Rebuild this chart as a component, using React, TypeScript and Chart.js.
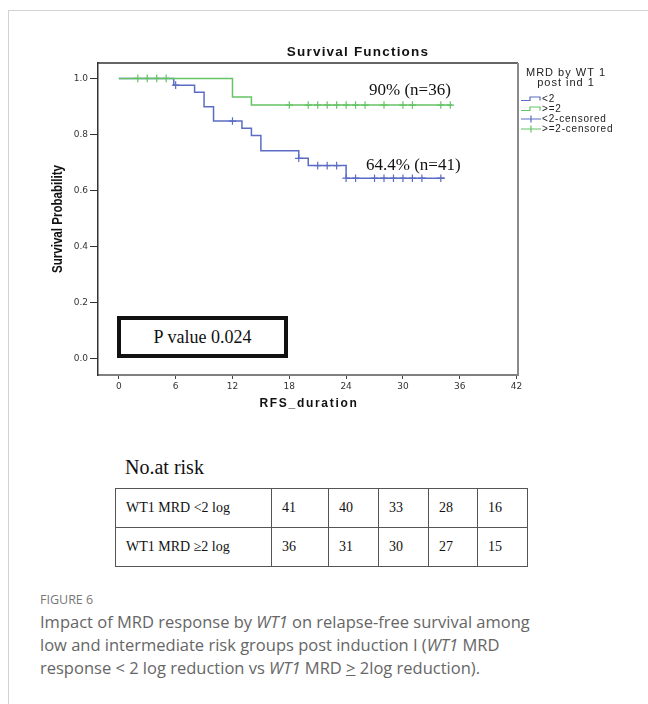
import React, { useEffect, useRef } from 'react';
import { Chart, registerables } from 'chart.js';

Chart.register(...registerables);

// ---------- data ----------
const CHART_TITLE = 'Survival Functions';
const X_TITLE = 'RFS_duration';
const Y_TITLE = 'Survival Probability';
const X_TICKS = [0, 6, 12, 18, 24, 30, 36, 42];
const Y_TICKS = [0, 0.2, 0.4, 0.6, 0.8, 1.0];
const LEGEND_TITLE = ['MRD by WT 1', 'post ind 1'];
const LEGEND_LABELS = ['<2', '>=2', '<2-censored', '>=2-censored'];

// group "<2" (WT1 MRD < 2 log reduction)
const LOW_TIMES = [0, 5.8, 8, 9, 10, 13, 14, 15, 19, 20, 24, 34.4];
const LOW_SURV = [1, 0.976, 0.951, 0.899, 0.848, 0.822, 0.796, 0.742, 0.715, 0.689, 0.644, 0.644];
const LOW_CENSORED = [6, 12, 19, 21, 22, 23, 24, 25, 27, 28, 29, 30, 31, 32, 34];

// group ">=2" (WT1 MRD >= 2 log reduction)
const HIGH_TIMES = [0, 12, 14, 35.2];
const HIGH_SURV = [1, 0.934, 0.905, 0.905];
const HIGH_CENSORED = [2, 3, 4, 5, 18, 20, 21, 22, 23, 24, 25, 26, 28, 30, 31, 34, 35];

const ANNOT_HIGH = '90% (n=36)';
const ANNOT_LOW = '64.4% (n=41)';
const P_TEXT = 'P value 0.024';

const RISK_TITLE = 'No.at risk';
const RISK_ROWS = ['WT1 MRD <2 log', 'WT1 MRD \u22652 log'];
const RISK_LOW = [41, 40, 33, 28, 16];
const RISK_HIGH = [36, 31, 30, 27, 15];

const BLUE = '#5b6cc4';
const GREEN = '#64c464';

const SANS = '"Liberation Sans", Arial, sans-serif';
const SERIF = '"Liberation Serif", "Times New Roman", serif';
const CAPTION_FONT = '"Open Sans", "Noto Sans", sans-serif';

function survAt(times: number[], surv: number[], t: number): number {
  let v = surv[0];
  for (let i = 0; i < times.length; i++) {
    if (times[i] <= t) v = surv[i];
  }
  return v;
}

const overlayPlugin = {
  id: 'overlay',
  afterDraw(chart: any) {
    const { ctx, chartArea: a } = chart;
    ctx.save();
    // top and right frame of the plot
    ctx.lineWidth = 1.5;
    ctx.strokeStyle = '#333';
    ctx.beginPath();
    ctx.moveTo(a.left, a.top);
    ctx.lineTo(a.right, a.top);
    ctx.stroke();
    ctx.lineWidth = 2;
    ctx.strokeStyle = '#8a8a8a';
    ctx.beginPath();
    ctx.moveTo(a.right, a.top);
    ctx.lineTo(a.right, a.bottom);
    ctx.stroke();

    ctx.fillStyle = '#111';
    ctx.textBaseline = 'middle';
    ctx.textAlign = 'center';
    // title
    (ctx as any).letterSpacing = '1.2px';
    ctx.font = `bold 13.5px ${SANS}`;
    ctx.fillText(CHART_TITLE, a.left + 260, a.top - 11);
    // x title
    (ctx as any).letterSpacing = '1.7px';
    ctx.font = `bold 12px ${SANS}`;
    ctx.fillText(X_TITLE, (a.left + a.right) / 2 + 1, a.bottom + 29);
    // y title (rotated, condensed)
    (ctx as any).letterSpacing = '0px';
    ctx.save();
    ctx.translate(a.left - 40, (a.top + a.bottom) / 2);
    ctx.rotate(-Math.PI / 2);
    ctx.font = `bold 14px ${SANS}`;
    ctx.fillText(Y_TITLE, 0, 0, 108);
    ctx.restore();

    // legend
    const lx = a.right + 3;
    (ctx as any).letterSpacing = '1px';
    ctx.font = `11px ${SANS}`;
    ctx.fillStyle = '#222';
    ctx.fillText(LEGEND_TITLE[0], a.right + 48, a.top + 10);
    ctx.fillText(LEGEND_TITLE[1], a.right + 48, a.top + 20);

    const ds = chart.data.datasets;
    const colorFor = (label: string) => {
      const d = ds.find((x: any) => x.label === label);
      return d ? d.borderColor : '#000';
    };
    ctx.textAlign = 'left';
    (ctx as any).letterSpacing = '0.8px';
    ctx.font = `10px ${SANS}`;
    LEGEND_LABELS.forEach((lab, i) => {
      const cy = a.top + 36 + i * 10;
      const col = colorFor(lab);
      ctx.strokeStyle = col;
      ctx.lineWidth = 1.2;
      ctx.beginPath();
      if (i < 2) {
        ctx.moveTo(lx, cy + 1.5);
        ctx.lineTo(lx + 9, cy + 1.5);
        ctx.lineTo(lx + 9, cy - 2);
        ctx.lineTo(lx + 19, cy - 2);
        ctx.lineTo(lx + 19, cy + 1.5);
      } else {
        ctx.moveTo(lx, cy);
        ctx.lineTo(lx + 20, cy);
        ctx.moveTo(lx + 10, cy - 3.5);
        ctx.lineTo(lx + 10, cy + 3.5);
      }
      ctx.stroke();
      ctx.fillStyle = '#222';
      ctx.fillText(lab, lx + 21, cy);
    });
    ctx.restore();
  },
};

function SurvivalChart() {
  const ref = useRef<HTMLCanvasElement | null>(null);
  useEffect(() => {
    if (!ref.current) return;
    const lowLine = LOW_TIMES.map((t, i) => ({ x: t, y: LOW_SURV[i] }));
    const highLine = HIGH_TIMES.map((t, i) => ({ x: t, y: HIGH_SURV[i] }));
    const lowCens = LOW_CENSORED.map((t) => ({ x: t, y: survAt(LOW_TIMES, LOW_SURV, t) }));
    const highCens = HIGH_CENSORED.map((t) => ({ x: t, y: survAt(HIGH_TIMES, HIGH_SURV, t) }));

    const tickFont = { family: '"DejaVu Sans", sans-serif', size: 9 };
    const chart = new Chart(ref.current, {
      type: 'line',
      data: {
        datasets: [
          {
            label: '>=2-censored',
            type: 'scatter',
            data: highCens,
            pointStyle: 'cross',
            pointRadius: 3.8,
            pointBorderWidth: 1.2,
            borderColor: GREEN,
            backgroundColor: GREEN,
            showLine: false,
          } as any,
          {
            label: '<2-censored',
            type: 'scatter',
            data: lowCens,
            pointStyle: 'cross',
            pointRadius: 3.8,
            pointBorderWidth: 1.2,
            borderColor: BLUE,
            backgroundColor: BLUE,
            showLine: false,
          } as any,
          {
            label: '>=2',
            data: highLine,
            stepped: 'before',
            borderColor: GREEN,
            backgroundColor: GREEN,
            borderWidth: 1.5,
            pointRadius: 0,
            fill: false,
          } as any,
          {
            label: '<2',
            data: lowLine,
            stepped: 'before',
            borderColor: BLUE,
            backgroundColor: BLUE,
            borderWidth: 1.5,
            pointRadius: 0,
            fill: false,
          } as any,
        ],
      },
      options: {
        animation: false,
        responsive: false,
        events: [],
        layout: { padding: { left: 0, top: 63, right: 130, bottom: 0 } },
        plugins: {
          legend: { display: false },
          tooltip: { enabled: false },
          title: { display: false },
        },
        scales: {
          x: {
            type: 'linear',
            min: -2.2,
            max: 42.15,
            afterBuildTicks: (s: any) => {
              s.ticks = X_TICKS.map((v) => ({ value: v }));
            },
            afterFit: (s: any) => {
              s.height = 55;
            },
            grid: { drawOnChartArea: false, drawTicks: true, tickLength: 4, tickColor: '#444', lineWidth: 1 },
            border: { display: true, color: '#808080', width: 2 },
            ticks: {
              padding: 2,
              font: tickFont,
              color: '#333',
              maxRotation: 0,
              autoSkip: false,
              callback: (v: any) => String(v),
            },
          },
          y: {
            type: 'linear',
            min: -0.058,
            max: 1.055,
            afterBuildTicks: (s: any) => {
              s.ticks = Y_TICKS.map((v) => ({ value: v }));
            },
            afterFit: (s: any) => {
              s.width = 98;
            },
            grid: { drawOnChartArea: false, drawTicks: true, tickLength: 8, tickColor: '#333', lineWidth: 1 },
            border: { display: true, color: '#333', width: 1.5 },
            ticks: {
              padding: 2,
              font: tickFont,
              color: '#333',
              autoSkip: false,
              callback: (v: any) => Number(v).toFixed(1),
            },
          },
        },
      },
      plugins: [overlayPlugin],
    } as any);
    return () => chart.destroy();
  }, []);
  return <canvas ref={ref} width={648} height={430} style={{ position: 'absolute', left: 0, top: 0 }} />;
}

const COL_WIDTHS = [156, 57, 50, 50, 49, 50];

function RiskTable() {
  const rows = [
    [RISK_ROWS[0], ...RISK_LOW.map(String)],
    [RISK_ROWS[1], ...RISK_HIGH.map(String)],
  ];
  return (
    <table
      style={{
        position: 'absolute',
        left: 115,
        top: 488,
        borderCollapse: 'collapse',
        tableLayout: 'fixed',
        width: 412,
        fontFamily: SERIF,
        fontSize: 14,
        color: '#111',
      }}
    >
      <colgroup>
        {COL_WIDTHS.map((w, i) => (
          <col key={i} style={{ width: w }} />
        ))}
      </colgroup>
      <tbody>
        {rows.map((r, ri) => (
          <tr key={ri} style={{ height: 39 }}>
            {r.map((c, ci) => (
              <td
                key={ci}
                style={{ border: '1px solid #555', padding: '0 0 0 10px', verticalAlign: 'middle', whiteSpace: 'nowrap' }}
              >
                {c}
              </td>
            ))}
          </tr>
        ))}
      </tbody>
    </table>
  );
}

export default function App() {
  return (
    <div
      style={{
        position: 'absolute',
        left: 0,
        top: 0,
        width: 648,
        height: 704,
        overflow: 'hidden',
        background: '#fff',
      }}
    >
      <div
        style={{
          position: 'absolute',
          left: 8,
          top: 10,
          width: 700,
          height: 760,
          borderTop: '1px solid #d2d2d2',
          borderLeft: '1px solid #d2d2d2',
        }}
      />
      <SurvivalChart />
      <div style={{ position: 'absolute', left: 369, top: 80, fontFamily: SERIF, fontSize: 17, lineHeight: '20px', color: '#111', whiteSpace: 'nowrap' }}>
        {ANNOT_HIGH}
      </div>
      <div style={{ position: 'absolute', left: 366, top: 155, fontFamily: SERIF, fontSize: 17, lineHeight: '20px', color: '#111', whiteSpace: 'nowrap' }}>
        {ANNOT_LOW}
      </div>
      <div
        style={{
          position: 'absolute',
          left: 117,
          top: 316,
          width: 171,
          height: 42,
          boxSizing: 'border-box',
          border: '4px solid #111',
          background: '#fff',
          display: 'flex',
          alignItems: 'center',
          justifyContent: 'center',
          fontFamily: SERIF,
          fontSize: 18,
          color: '#111',
          whiteSpace: 'nowrap',
        }}
      >
        {P_TEXT}
      </div>
      <div style={{ position: 'absolute', left: 125, top: 455, fontFamily: SERIF, fontSize: 20, lineHeight: '24px', color: '#111' }}>
        {RISK_TITLE}
      </div>
      <RiskTable />
      <div style={{ position: 'absolute', left: 40, top: 591, fontFamily: CAPTION_FONT, fontSize: 12.5, lineHeight: '18px', color: '#777' }}>
        FIGURE 6
      </div>
      <div
        style={{
          position: 'absolute',
          left: 40,
          top: 610,
          width: 600,
          fontFamily: CAPTION_FONT,
          fontSize: 16.5,
          lineHeight: '23px',
          color: '#666',
          whiteSpace: 'nowrap',
        }}
      >
        <div>
          Impact of MRD response by <i>WT1</i> on relapse-free survival among
        </div>
        <div>
          low and intermediate risk groups post induction I (<i>WT1</i> MRD
        </div>
        <div>
          response &lt; 2 log reduction vs <i>WT1</i> MRD <span style={{ textDecoration: 'underline' }}>&gt;</span> 2log reduction).
        </div>
      </div>
    </div>
  );
}
